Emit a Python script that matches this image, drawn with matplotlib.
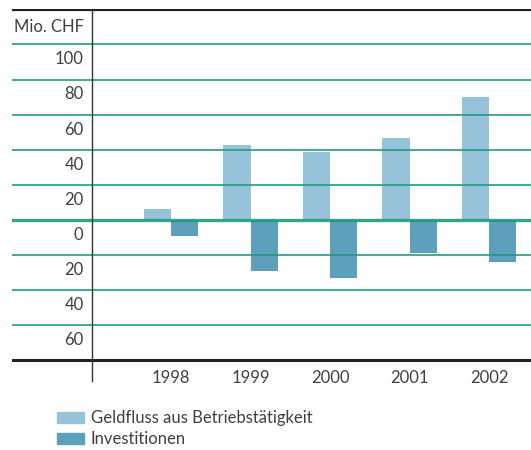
import matplotlib.pyplot as plt
from matplotlib.patches import Rectangle

years = ["1998", "1999", "2000", "2001", "2002"]
geldfluss = [6, 43, 39, 47, 70]
investitionen = [-9, -29, -33, -19, -24]
grid_vals = [100, 80, 60, 40, 20, 0, -20, -40, -60]
grid_labels = ["100", "80", "60", "40", "20", "0", "20", "40", "60"]

c_light = "#96c3da"
c_dark = "#5e9fbb"
c_green = "#1f9a7c"
c_text = "#404040"

plt.rcParams["font.family"] = ["Lato", "DejaVu Sans"]

fig = plt.figure(figsize=(5.31, 4.5), dpi=100)
W, H = 531, 450
# axes spans x 12..531 px, y 9..381 px
ax = fig.add_axes([12 / W, 1 - 381 / H, 519 / W, 372 / H])
ax.set_xlim(-2.0, 4.528)
ax.set_ylim(-91.7, 120.2)
ax.axis("off")

x = list(range(len(years)))
w = 0.34
ax.bar([i - w / 2 for i in x], geldfluss, width=w, color=c_light, zorder=2)
ax.bar([i + w / 2 for i in x], investitionen, width=w, color=c_dark, zorder=2)

for v, lab in zip(grid_vals, grid_labels):
    lw = 2.4 if v == 0 else 1.3
    ax.axhline(v, color=c_green, lw=lw, zorder=3, alpha=0.9)
    ax.text(-1.1, v - 8.5, lab, ha="right", va="center", fontsize=12, color=c_text)

ax.axhline(120, color="#222222", lw=3, zorder=3)
ax.axhline(-80, color="#222222", lw=2.2, zorder=3)
ax.plot([-1, -1], [-91.7, 120], color="#333333", lw=1, zorder=4, clip_on=False)

ax.text(-1.1, 110, "Mio. CHF", ha="right", va="center", fontsize=12, color=c_text)

for i, y in zip(x, years):
    ax.text(i, -90, y, ha="center", va="center", fontsize=12, color=c_text)

# legend
for k, (col, lab) in enumerate([(c_light, "Geldfluss aus Betriebstätigkeit"), (c_dark, "Investitionen")]):
    ytop = 412 + k * 21
    fig.add_artist(Rectangle((57 / W, 1 - (ytop + 11) / H), 27 / W, 11 / H,
                             transform=fig.transFigure, color=col))
    fig.text(91 / W, 1 - (ytop + 5.5) / H, lab, ha="left", va="center",
             fontsize=12, color=c_text)

fig.savefig("out.png", dpi=100)
